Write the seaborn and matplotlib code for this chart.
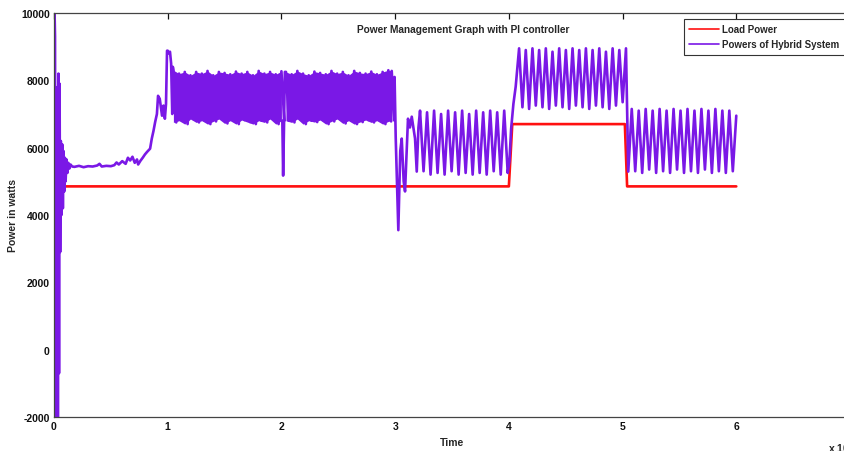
import numpy as np
import pandas as pd
import matplotlib
matplotlib.use("Agg")
import matplotlib.pyplot as plt
from matplotlib.lines import Line2D
import seaborn as sns

# ---- Load demand (W) ----
load_t = [0.012, 0.016, 0.020, 4.000, 4.030, 5.020, 5.040, 6.000]
load_w = [2550, 5430, 4850, 4850, 6700, 6700, 4850, 4850]

# ---- Hybrid system output (W) ----
# start-up transient
start_t = [0.000, 0.004, 0.009, 0.014, 0.019, 0.024, 0.029, 0.034, 0.039, 0.044,
           0.049, 0.054, 0.060, 0.066, 0.072, 0.078, 0.084, 0.090, 0.096, 0.102,
           0.110, 0.118, 0.126, 0.135, 0.145, 0.160]
start_w = [4800, 10200, 9300, -2200, 3200, 1400, 7800, -2200, 8200, -700,
           7900, 2900, 6200, 4000, 6100, 4200, 5900, 4700, 5700, 5000,
           5650, 5250, 5550, 5380, 5500, 5440]

# slow settling and ramp-up before t = 1
slow_t = [0.18, 0.22, 0.26, 0.30, 0.34, 0.38, 0.40, 0.42, 0.46, 0.50, 0.53, 0.55,
          0.57, 0.60, 0.63, 0.65, 0.67, 0.69, 0.71, 0.73, 0.74, 0.76, 0.78, 0.80,
          0.82, 0.845, 0.86, 0.875, 0.89, 0.905, 0.915, 0.93, 0.95, 0.963, 0.975,
          0.985, 0.994, 1.000, 1.010, 1.020, 1.030, 1.040, 1.045]
slow_w = [5430, 5460, 5420, 5450, 5440, 5470, 5520, 5440, 5460, 5450, 5480, 5560,
          5500, 5600, 5520, 5700, 5620, 5730, 5550, 5650, 5500, 5610, 5700, 5800,
          5880, 5970, 6270, 6500, 6770, 7000, 7540, 7450, 6950, 7250, 6860,
          7300, 8880, 8880, 8800, 8850, 8500, 7000, 8400]

# fast ripple band, first interval (upper / lower excursions)
band1_t = [1.05, 1.10, 1.15, 1.20, 1.25, 1.30, 1.35, 1.40, 1.45, 1.50,
           1.55, 1.60, 1.65, 1.70, 1.75, 1.80, 1.85, 1.90, 1.95, 2.00]
band1_hi = [8300, 8200, 8250, 8150, 8250, 8200, 8280, 8150, 8250, 8220,
            8180, 8260, 8200, 8250, 8150, 8280, 8200, 8250, 8180, 8270]
band1_lo = [6750, 6800, 6700, 6850, 6750, 6800, 6700, 6780, 6850, 6720,
            6800, 6700, 6820, 6760, 6700, 6800, 6750, 6850, 6700, 6800]

# dip at t = 2
dip_t = [2.008, 2.015, 2.022, 2.030]
dip_w = [6800, 5170, 6500, 8250]

# fast ripple band, second interval
band2_t = [2.04, 2.09, 2.14, 2.19, 2.24, 2.29, 2.34, 2.39, 2.44, 2.49,
           2.54, 2.59, 2.64, 2.69, 2.74, 2.79, 2.84, 2.89, 2.94, 2.97]
band2_hi = [8250, 8180, 8280, 8200, 8150, 8260, 8220, 8180, 8280, 8200,
            8250, 8150, 8280, 8220, 8200, 8260, 8180, 8250, 8300, 8280]
band2_lo = [6800, 6750, 6850, 6700, 6800, 6760, 6820, 6700, 6780, 6850,
            6720, 6800, 6700, 6760, 6820, 6750, 6800, 6700, 6780, 6800]

# transient at t = 3
tr3_t = [2.995, 3.005, 3.028, 3.045, 3.058, 3.075, 3.087, 3.100, 3.113, 3.130,
         3.146, 3.175, 3.190, 3.205]
tr3_w = [8100, 6300, 3550, 5900, 6270, 5000, 4700, 5800, 6860, 6600,
         6920, 6270, 5290, 6600]

# oscillation 3 -> 4 (alternating peak / trough)
osc3_span = (3.219, 3.990)
osc3_w = [7100, 5300, 7050, 5200, 7100, 5250, 7000, 5200, 7100, 5300, 7050, 5200,
          7100, 5250, 7000, 5200, 7100, 5250, 7050, 5200, 7100, 5300, 7050, 5200,
          7100, 5250]

# rise at t = 4
rise4_t = [4.005, 4.020, 4.040, 4.060]
rise4_w = [5600, 6560, 7300, 7810]

# oscillation 4 -> 5 (alternating peak / trough)
osc4_span = (4.090, 5.030)
osc4_w = [8950, 7200, 8900, 7150, 8950, 7250, 8900, 7200, 8950, 7150, 8850, 7250,
          8950, 7200, 8900, 7150, 8950, 7250, 8900, 7200, 8950, 7150, 8900, 7250,
          8950, 7200, 8850, 7150, 8950, 7250, 8900, 7350, 8950]

# oscillation 5 -> 6 (alternating trough / peak)
osc5_span = (5.050, 6.000)
osc5_w = [5290, 7150, 5300, 7100, 5250, 7150, 5350, 7100, 5250, 7150, 5300, 7100,
          5250, 7150, 5350, 7100, 5250, 7150, 5300, 7100, 5250, 7150, 5350, 7100,
          5250, 7150, 5300, 7100, 5250, 7100, 5300, 6950]

x_ticks = [0, 1, 2, 3, 4, 5, 6]
y_ticks = [-2000, 0, 2000, 4000, 6000, 8000, 10000]

LOAD = "Load Power"
HYB = "Powers of Hybrid System"
RED = "#ff1010"
PURPLE = "#7a18e6"


def zigzag(t, hi, lo):
    """Interleave upper and lower excursions of a ripple band."""
    t = np.asarray(t, float)
    step = np.diff(t).mean() / 2
    tt = np.column_stack([t, t + step]).ravel()
    ww = np.column_stack([hi, lo]).ravel()
    return tt, ww


z1_t, z1_w = zigzag(band1_t, band1_hi, band1_lo)
z2_t, z2_w = zigzag(band2_t, band2_hi, band2_lo)
hyb_t = np.concatenate([
    start_t, slow_t, z1_t, dip_t, z2_t, tr3_t,
    np.linspace(*osc3_span, len(osc3_w)), rise4_t,
    np.linspace(*osc4_span, len(osc4_w)),
    np.linspace(*osc5_span, len(osc5_w)),
])
hyb_w = np.concatenate([
    start_w, slow_w, z1_w, dip_w, z2_w, tr3_w, osc3_w, rise4_w, osc4_w, osc5_w,
])

df = pd.concat([
    pd.DataFrame({"time": load_t, "power": load_w, "series": LOAD}),
    pd.DataFrame({"time": hyb_t, "power": hyb_w, "series": HYB}),
], ignore_index=True)

sns.set_style("white")
plt.rcParams["font.family"] = ["Liberation Sans Narrow", "Liberation Sans", "DejaVu Sans"]
plt.rcParams["font.weight"] = "bold"
plt.rcParams["axes.unicode_minus"] = False

W, H = 845, 452
fig = plt.figure(figsize=(W / 100, H / 100), dpi=100)
ax = fig.add_axes([54 / W, 1 - 418 / H, (850 - 54) / W, 404 / H])

sns.lineplot(data=df, x="time", y="power", hue="series",
             hue_order=[LOAD, HYB], palette={LOAD: RED, HYB: PURPLE},
             estimator=None, sort=False, linewidth=1.9, legend=False, ax=ax)
for b_t, b_hi, b_lo in [(band1_t, band1_hi, band1_lo), (band2_t, band2_hi, band2_lo)]:
    ax.fill_between(b_t, b_lo, b_hi, color=PURPLE, linewidth=0, zorder=2.5)

ax.set_xlim(0, 7)
ax.set_ylim(-2000, 10000)
ax.set_xticks(x_ticks)
ax.set_yticks(y_ticks)
ax.tick_params(direction="in", top=True, right=True, length=4, width=0.9,
               labelsize=7.5, pad=3, colors="#111111")
for s in ax.spines.values():
    s.set_color("#444444")
    s.set_linewidth(0.9)
ax.grid(False)

ax.set_xlabel("Time", fontsize=7.5, fontweight="bold", labelpad=4)
ax.set_ylabel("Power in watts", fontsize=7.5, fontweight="bold")
ax.yaxis.set_label_coords(-0.045, 0.5)

fig.text(463 / W, 1 - 30 / H, "Power Management Graph with PI controller",
         ha="center", va="center", fontsize=7.3, fontweight="bold")
fig.text(828 / W, 1 - 448 / H, r"x 10$^{4}$", ha="left", va="center",
         fontsize=7.5, fontweight="bold")

handles = [Line2D([], [], color=RED, lw=1.2), Line2D([], [], color=PURPLE, lw=1.2)]
leg = ax.legend(handles, [LOAD, HYB], loc="upper left",
                bbox_to_anchor=(0.7915, 0.985), prop={"size": 7.0, "weight": "bold"},
                frameon=True, fancybox=False, edgecolor="#333333", framealpha=1,
                handlelength=3.0, handletextpad=0.4, borderpad=0.55,
                labelspacing=0.5, borderaxespad=0)
leg.get_frame().set_linewidth(0.8)

fig.savefig("out.png", dpi=100)
